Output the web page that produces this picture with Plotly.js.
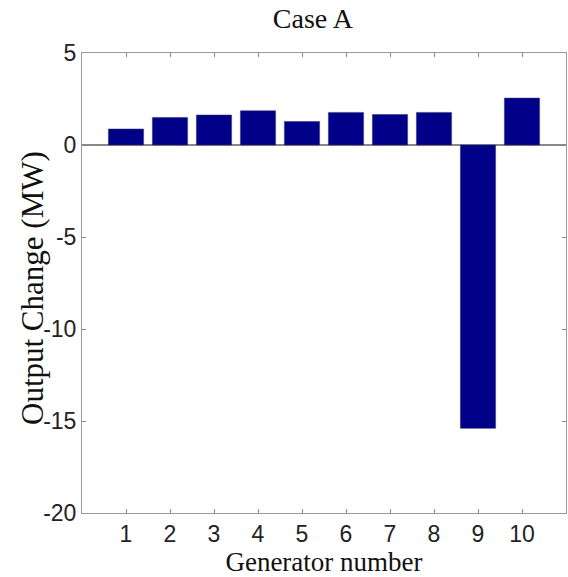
<!DOCTYPE html>
<html>
<head>
<meta charset="utf-8">
<script src="https://cdn.plot.ly/plotly-3.0.1.min.js"></script>
<style>html,body{margin:0;padding:0;background:#fff;}#chart{width:568px;height:577px;}</style>
</head>
<body>
<div id="chart"></div>
<script>
const generators = [1, 2, 3, 4, 5, 6, 7, 8, 9, 10];
const outputChange = [0.87, 1.5, 1.63, 1.86, 1.28, 1.77, 1.66, 1.77, -15.4, 2.55];
const xTickVals = [1, 2, 3, 4, 5, 6, 7, 8, 9, 10];
const yTickVals = [-20, -15, -10, -5, 0, 5];

const serif = 'Liberation Serif, Times New Roman, serif';
const sans = 'Liberation Sans, Arial, sans-serif';

const trace = {
  type: 'bar',
  x: generators,
  y: outputChange,
  width: 0.8,
  marker: { color: '#000088', line: { color: '#333366', width: 0.5 } },
  hoverinfo: 'x+y'
};

const layout = {
  width: 568,
  height: 577,
  margin: { l: 82, r: 2, t: 53, b: 64 },
  paper_bgcolor: '#ffffff',
  plot_bgcolor: '#ffffff',
  showlegend: false,
  title: {
    text: 'Case A',
    font: { family: serif, size: 28, color: '#111' },
    x: 0.477, xref: 'paper', xanchor: 'center',
    y: 1 - 8 / 577, yref: 'container', yanchor: 'top'
  },
  xaxis: {
    range: [0, 11],
    tickmode: 'array',
    tickvals: xTickVals,
    ticktext: xTickVals.map(String),
    ticks: 'inside', ticklen: 4, tickcolor: '#888',
    showline: true, linecolor: '#999', linewidth: 1, mirror: 'ticks',
    showgrid: false, zeroline: false,
    tickfont: { family: sans, size: 23, color: '#222' },
    title: {
      text: 'Generator number',
      font: { family: serif, size: 27, color: '#111' },
      standoff: 0
    }
  },
  yaxis: {
    range: [-20, 5],
    tickmode: 'array',
    tickvals: yTickVals,
    ticktext: yTickVals.map(String),
    ticks: 'inside', ticklen: 4, tickcolor: '#888',
    showline: true, linecolor: '#999', linewidth: 1, mirror: 'ticks',
    showgrid: false,
    zeroline: true, zerolinecolor: '#888', zerolinewidth: 1.5,
    tickfont: { family: sans, size: 23, color: '#222' },
    title: { text: '' }
  },
  annotations: [{
    text: 'Output Change (MW)',
    textangle: -90,
    xref: 'paper', yref: 'paper',
    x: (32 - 82) / 484, y: (513 - 288) / 460,
    xanchor: 'center', yanchor: 'middle',
    showarrow: false,
    font: { family: serif, size: 31, color: '#111' }
  }]
};

Plotly.newPlot('chart', [trace], layout, { staticPlot: true, displayModeBar: false });
</script>
</body>
</html>
